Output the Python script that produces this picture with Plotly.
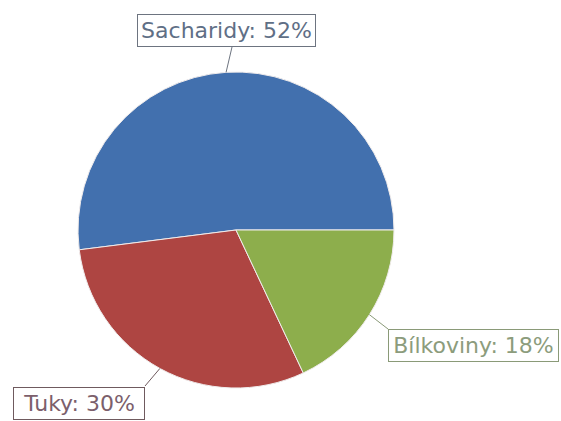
import math
import plotly.graph_objects as go

# Nutrient shares of the diet
labels = ["Sacharidy", "Tuky", "Bílkoviny"]
values = [52, 30, 18]
slice_colors = ["#4270AE", "#AE4542", "#8DAE4C"]
label_text_colors = ["#5f6f86", "#7c5f6c", "#8c9c7c"]
label_border_colors = ["#6d7480", "#6f5a5e", "#8a9a78"]

W, H = 561, 421
cx, cy, r = 236, 230, 158  # pie centre / radius in pixels

total = sum(values)
# first slice starts at 3 o'clock and the slices run counterclockwise
rotation = 90 - 360.0 * values[0] / total

fig = go.Figure(go.Pie(
    labels=labels,
    values=values,
    sort=False,
    direction="counterclockwise",
    rotation=rotation,
    marker=dict(colors=slice_colors, line=dict(color="#f0ecec", width=1)),
    textinfo="none",
    hoverinfo="label+percent",
    showlegend=False,
    domain=dict(x=[(cx - r) / W, (cx + r) / W],
                y=[(H - cy - r) / H, (H - cy + r) / H]),
))

# label boxes: centre x, centre y, outer width, outer height (pixels)
box_geom = {
    "Sacharidy": (226.5, 30.5, 179, 33),
    "Tuky": (79, 403, 132, 33),
    "Bílkoviny": (473.5, 345, 171, 33),
}
# connector end point on the box edge, in pixels
box_end = {
    "Sacharidy": (232, 47),
    "Tuky": (145, 386),
    "Bílkoviny": (388, 329),
}
PAD, BORDER = 2, 1

start = 0.0  # degrees, counterclockwise from 3 o'clock
shapes = []
annotations = []
for lab, val, tc, bc in zip(labels, values, label_text_colors, label_border_colors):
    sweep = 360.0 * val / total
    mid = math.radians(start + sweep / 2)
    start += sweep
    ex, ey = cx + r * math.cos(mid), cy - r * math.sin(mid)
    bx, by = box_end[lab]
    shapes.append(dict(type="line", xref="paper", yref="paper",
                       x0=ex / W, y0=1 - ey / H, x1=bx / W, y1=1 - by / H,
                       line=dict(color=bc, width=1)))
    px, py, bw, bh = box_geom[lab]
    pct = round(100.0 * val / total)
    annotations.append(dict(
        text=f"{lab}: {pct}%", xref="paper", yref="paper",
        x=px / W, y=1 - py / H, xanchor="center", yanchor="middle",
        showarrow=False, align="center", valign="middle",
        width=bw - 2 * (PAD + BORDER), height=bh - 2 * (PAD + BORDER),
        font=dict(family="DejaVu Sans", size=22, color=tc),
        bordercolor=bc, borderwidth=BORDER, borderpad=PAD, bgcolor="white",
    ))

fig.update_layout(
    width=W, height=H,
    margin=dict(l=0, r=0, t=0, b=0),
    paper_bgcolor="white", plot_bgcolor="white",
    shapes=shapes, annotations=annotations,
)

fig.write_html("out.html")
